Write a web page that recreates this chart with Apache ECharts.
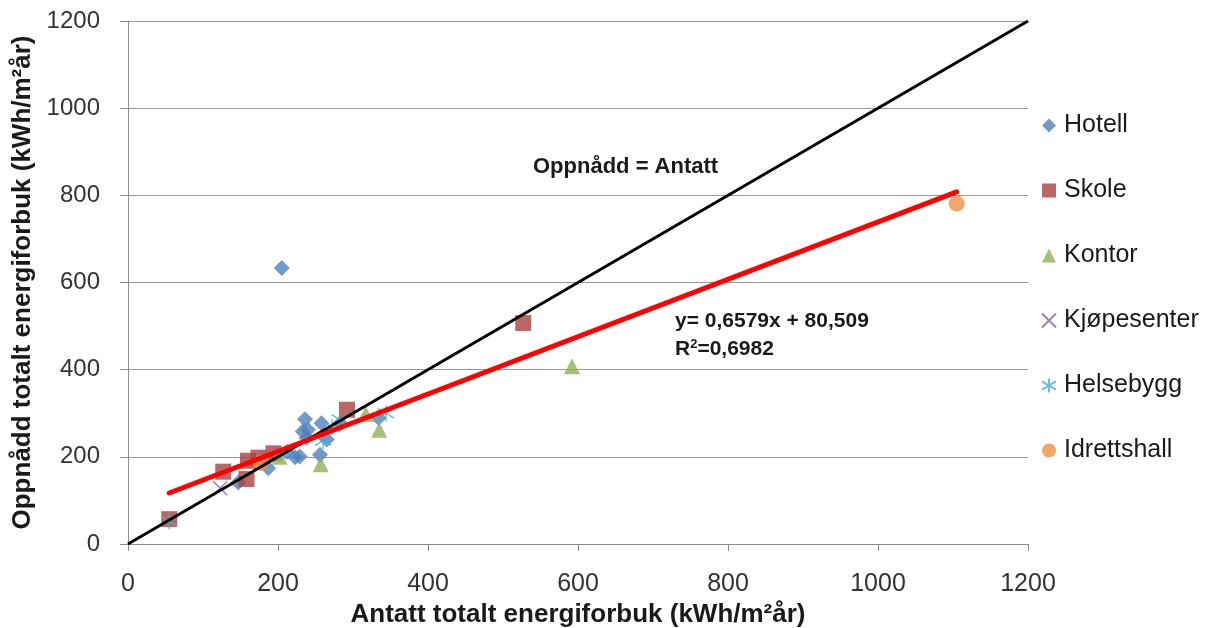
<!DOCTYPE html>
<html>
<head>
<meta charset="utf-8">
<script src="https://cdn.jsdelivr.net/npm/echarts@6/dist/echarts.min.js"></script>
<style>html,body{margin:0;padding:0;background:#fff}#c{width:1210px;height:628px}</style>
</head>
<body>
<div id="c"></div>
<script>
const seriesNames = ['Hotell','Skole','Kontor','Kjøpesenter','Helsebygg','Idrettshall'];
const hotell = [[205,633],[236,286],[233,258],[238,244],[258,277],[265,240],[147,141],[187,174],[212,211],[223,199],[229,201],[256,205],[283,277],[334,289],[240,262]];
const skole = [[55,57],[127,166],[158,149],[160,191],[174,198],[194,208],[292,308],[527,507]];
const kontor = [[202,200],[257,183],[317,298],[335,262],[592,408]];
const kjopesenter = [[123,128]];
const helsebygg = [[55,52],[260,237],[282,286],[344,300],[272,268]];
const idrettshall = [[177,186],[1105,781]];
const identityLine = [[0,0],[1200,1200]];
const trendLine = [[55,117],[1105,808]];
const xTicks = [0,200,400,600,800,1000,1200];
const yTicks = [0,200,400,600,800,1000,1200];

const colors = ['#4F81BD','#A9413E','#8DB255','#8064A2','#4BACC6','#F0903E'];
const font = 'Liberation Sans';
const xPath = 'path://M0,0L10,10M10,0L0,10';
const starPath = 'path://M5,0L5,10M0,2L10,8M10,2L0,8';

const chart = echarts.init(document.getElementById('c'));
function sc(name, data, symbol, size, idx, stroke){
  return {name, type:'scatter', data, symbol, symbolSize:size, z:2,
    itemStyle: stroke ? {color:'rgba(0,0,0,0)', borderColor:colors[idx], borderWidth:1.5} : {color:colors[idx]}};
}
chart.setOption({
  animation:false,
  color: colors,
  grid:{left:128, right:182, top:21, bottom:84, outerBoundsMode:'none', containLabel:false},
  legend:{orient:'vertical', left:1041, top:113, padding:0, itemGap:40, itemWidth:14, itemHeight:14,
    textStyle:{fontFamily:font, fontSize:25, color:'#1a1a1a', padding:[0,0,0,3]},
    data: seriesNames},
  xAxis:{type:'value', min:0, max:1200, interval:200,
    name:'Antatt totalt energiforbuk (kWh/m²år)', nameLocation:'middle', nameGap:54,
    nameTextStyle:{fontFamily:font, fontSize:26, fontWeight:'bold', color:'#1a1a1a'},
    axisLine:{show:true, lineStyle:{color:'#8c8c8c', width:1}},
    axisTick:{show:true, length:7, lineStyle:{color:'#8c8c8c'}},
    axisLabel:{fontFamily:font, fontSize:25, color:'#333', margin:28,
      formatter:v=> xTicks.includes(v)? String(v):''},
    splitLine:{show:false}},
  yAxis:{type:'value', min:0, max:1200, interval:200,
    name:'Oppnådd totalt energiforbuk (kWh/m²år)', nameLocation:'middle', nameGap:88,
    nameTextStyle:{fontFamily:font, fontSize:26, fontWeight:'bold', color:'#1a1a1a'},
    axisLine:{show:true, lineStyle:{color:'#8c8c8c', width:1}},
    axisTick:{show:true, length:8, lineStyle:{color:'#8c8c8c'}},
    axisLabel:{fontFamily:font, fontSize:24, color:'#333', margin:28,
      formatter:v=> yTicks.includes(v)? String(v):''},
    splitLine:{show:true, lineStyle:{color:'#999', width:1}}},
  series:[
    sc('Hotell', hotell, 'diamond', 16, 0),
    sc('Skole', skole, 'rect', 16, 1),
    sc('Kontor', kontor, 'triangle', 16, 2),
    sc('Kjøpesenter', kjopesenter, xPath, 14, 3, true),
    sc('Helsebygg', helsebygg, starPath, 16, 4, true),
    sc('Idrettshall', idrettshall, 'circle', 16, 5),
    {name:'identity', type:'line', data:identityLine, symbol:'none', z:3,
      lineStyle:{color:'#000', width:3}},
    {name:'trend', type:'line', data:trendLine, symbol:'none', z:4,
      lineStyle:{color:'#FF0000', width:5, cap:'round'}}
  ],
  graphic:[
    {type:'text', left:533, top:156, style:{text:'Oppnådd = Antatt', fontFamily:font, fontSize:22, fontWeight:'bold', fill:'#1a1a1a'}},
    {type:'text', left:675, top:311, style:{text:'y= 0,6579x + 80,509', fontFamily:font, fontSize:21, fontWeight:'bold', fill:'#1a1a1a'}},
    {type:'text', left:675, top:338, style:{rich:{a:{fontFamily:font, fontSize:21, fontWeight:'bold', fill:'#1a1a1a'}, s:{fontFamily:font, fontSize:13, fontWeight:'bold', fill:'#1a1a1a', verticalAlign:'top', padding:[0,0,10,0]}},
      text:'{a|R}{s|2}{a|=0,6982}'}}
  ]
});
</script>
</body>
</html>
